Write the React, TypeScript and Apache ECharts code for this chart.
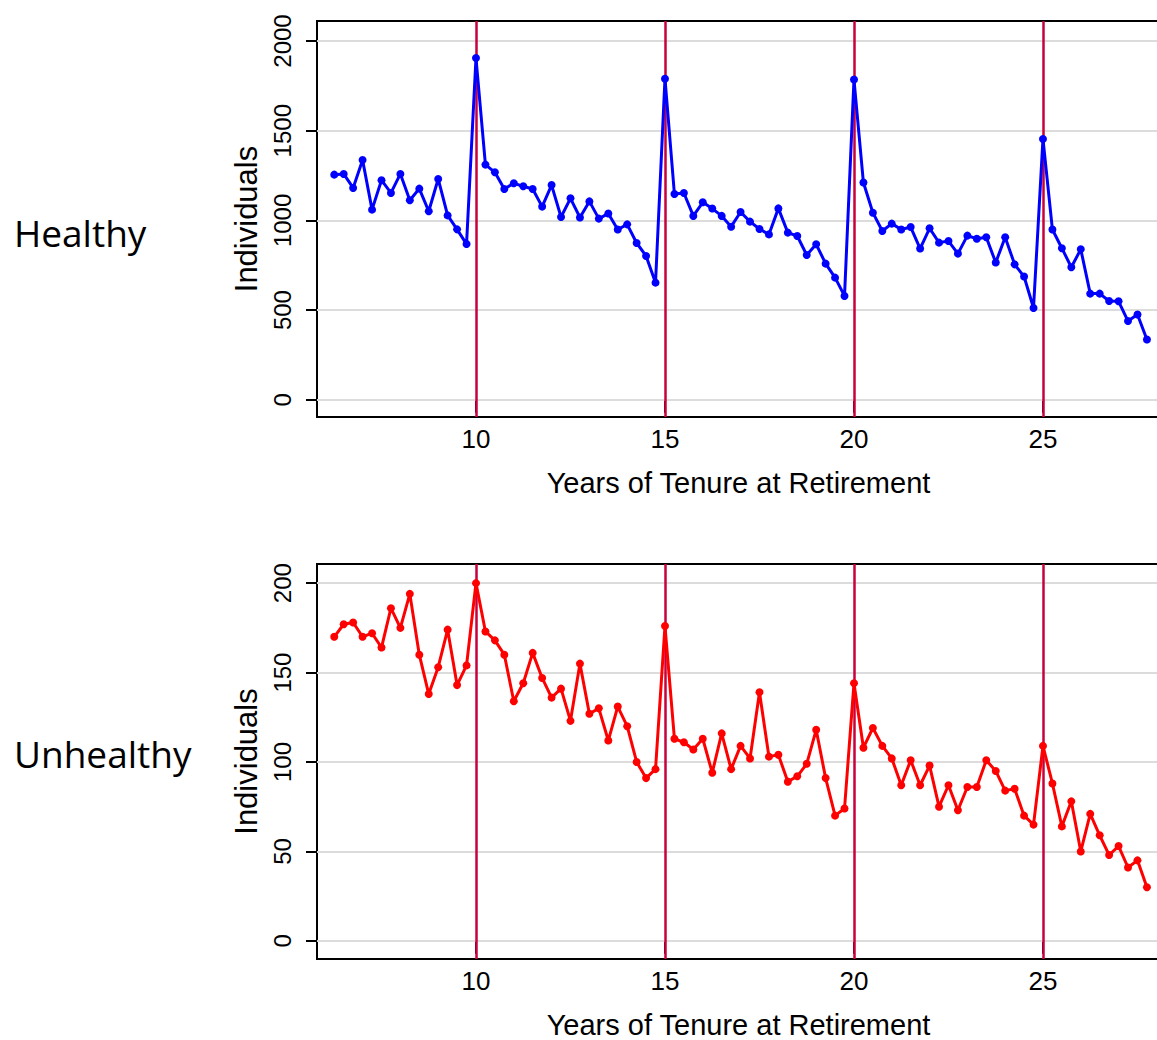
import React, { useEffect, useRef } from "react";
import * as echarts from "echarts";

// Years of tenure at retirement (quarterly steps)
const tenure = [
  6.25, 6.5, 6.75, 7, 7.25, 7.5, 7.75, 8, 8.25, 8.5, 8.75, 9, 9.25, 9.5, 9.75,
  10, 10.25, 10.5, 10.75, 11, 11.25, 11.5, 11.75, 12, 12.25, 12.5, 12.75, 13, 13.25, 13.5, 13.75, 14, 14.25, 14.5, 14.75,
  15, 15.25, 15.5, 15.75, 16, 16.25, 16.5, 16.75, 17, 17.25, 17.5, 17.75, 18, 18.25, 18.5, 18.75, 19, 19.25, 19.5, 19.75,
  20, 20.25, 20.5, 20.75, 21, 21.25, 21.5, 21.75, 22, 22.25, 22.5, 22.75, 23, 23.25, 23.5, 23.75, 24, 24.25, 24.5, 24.75,
  25, 25.25, 25.5, 25.75, 26, 26.25, 26.5, 26.75, 27, 27.25, 27.5, 27.75,
];

// Number of healthy retirees at each tenure
const healthy = [
  1255, 1259, 1181, 1337, 1060, 1224, 1153, 1259, 1112, 1177, 1051, 1231, 1028, 950, 868,
  1905, 1311, 1268, 1175, 1207, 1190, 1175, 1077, 1197, 1019, 1123, 1016, 1106, 1010, 1038, 949, 978, 874, 802, 653,
  1790, 1147, 1153, 1025, 1101, 1066, 1025, 965, 1047, 993, 952, 922, 1067, 932, 913, 807, 867, 759, 681, 579,
  1785, 1211, 1043, 941, 982, 949, 963, 843, 956, 876, 885, 815, 915, 898, 906, 765, 906, 755, 687, 512,
  1454, 949, 845, 739, 839, 592, 592, 551, 549, 439, 475, 336,
];

// Number of unhealthy retirees at each tenure
const unhealthy = [
  170, 177, 178, 170, 172, 164, 186, 175, 194, 160, 138, 153, 174, 143, 154,
  200, 173, 168, 160, 134, 144, 161, 147, 136, 141, 123, 155, 127, 130, 112, 131, 120, 100, 91, 96,
  176, 113, 111, 107, 113, 94, 116, 96, 109, 102, 139, 103, 104, 89, 92, 99, 118, 91, 70, 74,
  144, 108, 119, 109, 102, 87, 101, 87, 98, 75, 87, 73, 86, 86, 101, 95, 84, 85, 70, 65,
  109, 88, 64, 78, 50, 71, 59, 48, 53, 41, 45, 30,
];

const xTicks = [10, 15, 20, 25];
const healthyTicks = [0, 500, 1000, 1500, 2000];
const unhealthyTicks = [0, 50, 100, 150, 200];
const cutoffs = [10, 15, 20, 25];

const FONT = "'Liberation Sans', Arial, sans-serif";

const X_MIN = 5.794;
const X_MAX = 28.096;

function xAxisFor(gridIndex: number) {
  return {
    type: "value",
    gridIndex,
    min: X_MIN,
    max: X_MAX,
    axisLine: { show: false },
    axisTick: {
      show: true,
      length: 13,
      customValues: xTicks,
      lineStyle: { color: "#000", width: 2 },
    },
    axisLabel: {
      customValues: xTicks,
      fontSize: 26,
      fontFamily: FONT,
      color: "#000",
      margin: 9,
      formatter: (v: number) => String(v),
    },
    splitLine: { show: false },
    name: "Years of Tenure at Retirement",
    nameLocation: "middle",
    nameGap: 51,
    nameTextStyle: { fontSize: 29, fontFamily: FONT, color: "#000" },
  };
}

function yAxisFor(gridIndex: number, min: number, max: number, ticks: number[]) {
  return {
    type: "value",
    gridIndex,
    min,
    max,
    axisLine: { show: false },
    axisTick: {
      show: true,
      length: 11,
      customValues: ticks,
      lineStyle: { color: "#000", width: 2 },
    },
    axisLabel: {
      customValues: ticks,
      rotate: 90,
      fontSize: 24,
      fontFamily: FONT,
      color: "#000",
      margin: 23,
      formatter: (v: number) => String(v),
    },
    splitLine: { show: false },
    name: "Individuals",
    nameLocation: "middle",
    nameGap: 53,
    nameRotate: 90,
    nameTextStyle: { fontSize: 31, fontFamily: FONT, color: "#000" },
  };
}

function guideSeries(index: number, ticks: number[]) {
  return {
    type: "line",
    xAxisIndex: index,
    yAxisIndex: index,
    data: [],
    z: 1,
    silent: true,
    markLine: {
      silent: true,
      z: 1,
      symbol: ["none", "none"],
      label: { show: false },
      animation: false,
      data: [
        ...ticks.map((v) => ({
          yAxis: v,
          lineStyle: { color: "#dcdcdc", width: 2, type: "solid" },
        })),
        ...cutoffs.map((v) => ({
          xAxis: v,
          lineStyle: { color: "#c8003c", width: 2.5, type: "solid" },
        })),
      ],
    },
  };
}

function dataSeries(index: number, values: number[], color: string) {
  return {
    type: "line",
    xAxisIndex: index,
    yAxisIndex: index,
    data: tenure.map((t, i) => [t, values[i]]),
    symbol: "circle",
    symbolSize: 8,
    showSymbol: true,
    lineStyle: { color, width: 3 },
    itemStyle: { color },
    z: 3,
  };
}

export default function App() {
  const ref = useRef<HTMLDivElement>(null);

  useEffect(() => {
    if (!ref.current) return;
    const chart = echarts.init(ref.current, null, { renderer: "svg" });
    chart.setOption({
      animation: false,
      backgroundColor: "#fff",
      textStyle: { fontFamily: FONT },
      grid: [
        { left: 317, top: 21, width: 843, height: 396, show: true, borderColor: "#000", borderWidth: 2, backgroundColor: "transparent", z: 0 },
        { left: 317, top: 564, width: 843, height: 398, show: true, borderColor: "#000", borderWidth: 2, backgroundColor: "transparent", z: 0 },
      ],
      xAxis: [xAxisFor(0), xAxisFor(1)],
      yAxis: [
        yAxisFor(0, -95.9, 2111.5, healthyTicks),
        yAxisFor(1, -10.15, 210.7, unhealthyTicks),
      ],
      series: [
        guideSeries(0, healthyTicks),
        guideSeries(1, unhealthyTicks),
        dataSeries(0, healthy, "#0000ff"),
        dataSeries(1, unhealthy, "#ff0000"),
      ],
      graphic: [
        {
          type: "text",
          x: 14,
          y: 232,
          style: {
            text: "Healthy",
            fontSize: 37,
            fontFamily: "'Open Sans', sans-serif",
            fill: "#000",
            textAlign: "left",
            textVerticalAlign: "middle",
          },
        },
        {
          type: "text",
          x: 14,
          y: 753,
          style: {
            text: "Unhealthy",
            fontSize: 37,
            fontFamily: "'Open Sans', sans-serif",
            fill: "#000",
            textAlign: "left",
            textVerticalAlign: "middle",
          },
        },
      ],
    });
    return () => chart.dispose();
  }, []);

  return (
    <div
      style={{
        position: "absolute",
        left: 0,
        top: 0,
        width: 1157,
        height: 1040,
        overflow: "hidden",
        background: "#fff",
      }}
    >
      <div ref={ref} style={{ width: 1172, height: 1040 }} />
    </div>
  );
}
